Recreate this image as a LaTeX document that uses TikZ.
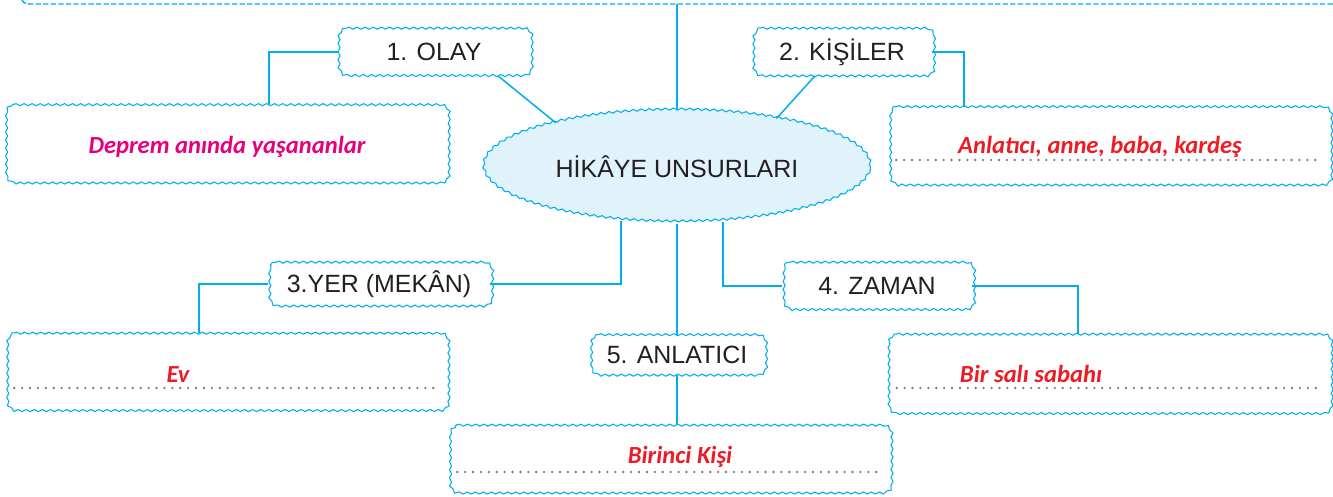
\documentclass[tikz,border=0pt]{standalone}
\usepackage{fontspec}
\setmainfont{Liberation Sans}
\newfontfamily\answerfont{Carlito}
\usepackage{xcolor}
\usetikzlibrary{positioning}
\usetikzlibrary{calc}
\usetikzlibrary{shapes.geometric}
\usetikzlibrary{decorations.pathmorphing}

\definecolor{linecyan}{RGB}{0,174,239}
\definecolor{ellipsefill}{RGB}{224,242,250}
\definecolor{ansred}{RGB}{237,28,36}
\definecolor{ansmagenta}{RGB}{230,0,126}
\definecolor{labelgray}{RGB}{35,31,32}
\definecolor{dotgray}{RGB}{125,125,125}

\tikzset{
	wavy/.style={draw=linecyan, line width=0.6pt, decorate, decoration={snake, amplitude=0.6pt, segment length=4.6pt}},
	tagbox/.style={text=labelgray, font=\fontsize{14.2}{16}\selectfont, inner sep=0pt},
	answerbox/.style={inner sep=0pt},
	answer/.style={anchor=base, font=\answerfont\fontsize{14}{16}\selectfont\bfseries\itshape},
	link/.style={draw=linecyan, line width=0.85pt},
	dotline/.style={dotgray, line width=1.5pt, line cap=round, dash pattern=on 0pt off 4.5pt},
}

% wavy rounded frame round a named node
\newcommand{\wavyframe}[1]{%
	\draw[wavy] ($(#1.north west)+(5pt,0)$) -- ($(#1.north east)+(-5pt,0)$)
		arc[start angle=90, end angle=0, radius=5pt] -- ($(#1.south east)+(0,5pt)$)
		arc[start angle=0, end angle=-90, radius=5pt] -- ($(#1.south west)+(5pt,0)$)
		arc[start angle=-90, end angle=-180, radius=5pt] -- ($(#1.north west)+(0,-5pt)$)
		arc[start angle=180, end angle=90, radius=5pt] -- cycle;}

\begin{document}
\begin{tikzpicture}[x=0.02cm, y=-0.02cm]
	\useasboundingbox (0,0) rectangle (1333,497);
	
	% top line
	\coordinate (topmid) at (677,4);
	\draw[linecyan, line width=0.8pt, dash pattern=on 3pt off 1.3pt] (22,0) .. controls (24,4) and (27,4) .. (32,4) -- (1333,4);
	
	% center
	\node[ellipse, wavy, fill=ellipsefill, minimum width=7.74cm, minimum height=2.24cm, inner sep=0pt, text=labelgray, font=\fontsize{14.2}{16}\selectfont] (hikaye) at (677,167) {HİKÂYE UNSURLARI};
	
	% titles
	\node[tagbox, minimum width=3.84cm, minimum height=0.94cm] (olay) at (434,52) {1. OLAY};
	\node[tagbox, minimum width=3.6cm, minimum height=0.94cm] (kisiler) at (842,52) {2. KİŞİLER};
	\node[tagbox, minimum width=4.44cm, minimum height=0.86cm] (yer) at (379,284) {3.YER (MEKÂN)};
	\node[tagbox, minimum width=3.8cm, minimum height=0.94cm] (zaman) at (877,286) {4. ZAMAN};
	\node[tagbox, minimum width=3.48cm, minimum height=0.8cm] (anlatici) at (677,355) {5. ANLATICI};
	
	% answer boxes
	\node[answerbox, minimum width=8.84cm, minimum height=1.56cm] (deprem) at (226,144) {};
	\node[answerbox, minimum width=8.82cm, minimum height=1.56cm] (kisi) at (1109,146) {};
	\node[answerbox, minimum width=8.82cm, minimum height=1.54cm] (ev) at (226,372) {};
	\node[answerbox, minimum width=8.84cm, minimum height=1.58cm] (sabah) at (1109,374) {};
	\node[answerbox, minimum width=8.82cm, minimum height=1.34cm] (birinci) at (669,459) {};
	
	% frames
	\foreach \fr in {olay,kisiler,yer,zaman,anlatici,deprem,kisi,ev,sabah,birinci}
		\wavyframe{\fr};
	
	% dotted lines
	\draw[dotline] ($(kisi.west)+(8,14)$) -- ($(kisi.east)+(-10,14)$);
	\draw[dotline] ($(ev.west)+(9,16)$) -- ($(ev.east)+(-10,16)$);
	\draw[dotline] ($(sabah.west)+(9,14)$) -- ($(sabah.east)+(-10,14)$);
	\draw[dotline] ($(birinci.west)+(9,13)$) -- ($(birinci.east)+(-10,13)$);
	
	% answers
	\node[answer, text=ansmagenta] (depremtext) at (227,153) {Deprem anında yaşananlar};
	\node[answer, text=ansred] (kisitext) at (1100,153) {Anlatıcı, anne, baba, kardeş};
	\node[answer, text=ansred] (evtext) at (178,382) {Ev};
	\node[answer, text=ansred] (sabahtext) at (1031,382) {Bir salı sabahı};
	\node[answer, text=ansred] (birincitext) at (680,463) {Birinci Kişi};
	
	% links
	\draw[link] (topmid) -- (hikaye.north);
	\draw[link] ($(olay.south)+(64,0)$) -- (hikaye.160);
	\draw[link] ($(kisiler.south)+(-27,0)$) -- (hikaye.26);
	\draw[link] (olay.west) -| ($(deprem.north)+(43,0)$);
	\draw[link] (kisiler.east) -| ($(kisi.north)+(-145,0)$);
	\draw[link] (hikaye.-136) |- (yer.east);
	\draw[link] (hikaye.-50.5) |- (zaman.west);
	\draw[link] (yer.west) -| ($(ev.north)+(-27,0)$);
	\draw[link] (zaman.east) -| ($(sabah.north)+(-31,0)$);
	\draw[link] (hikaye.south) -- (anlatici.north);
	\draw[link] (anlatici.south) -- (anlatici.south |- birinci.north);
\end{tikzpicture}
\end{document}
